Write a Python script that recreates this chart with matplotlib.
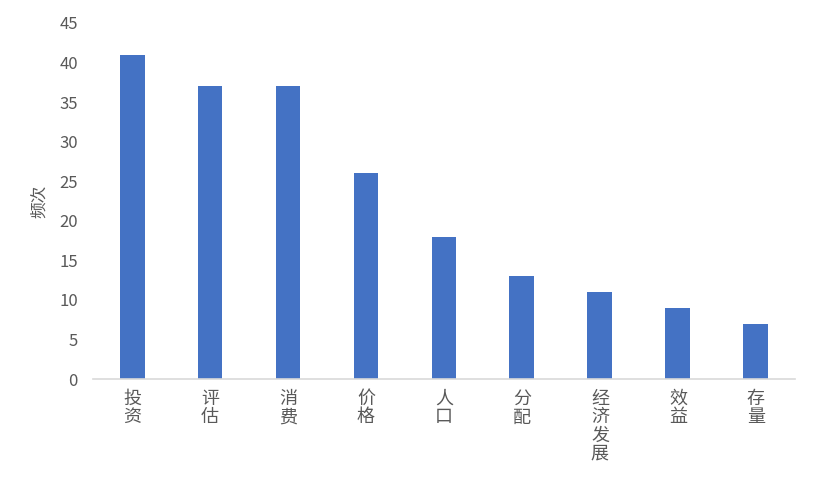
import matplotlib.pyplot as plt

plt.rcParams['font.family'] = ['Noto Sans CJK SC', 'DejaVu Sans']

# data
categories = ["投资", "评估", "消费", "价格", "人口", "分配", "经济发展", "效益", "存量"]
counts = [41, 37, 37, 26, 18, 13, 11, 9, 7]
yticks = [0, 5, 10, 15, 20, 25, 30, 35, 40, 45]

text_color = "#595959"

fig = plt.figure(figsize=(8.19, 4.78), dpi=100)
ax = fig.add_axes([0.1136, 0.2071, 0.857, 0.7448])

x = range(len(categories))
ax.bar(x, counts, width=0.32, color="#4472C4", zorder=2)

ax.set_xlim(-0.5, len(categories) - 0.5)
ax.set_ylim(0, 45)
ax.set_yticks(yticks)
ax.set_yticklabels([str(v) for v in yticks], fontsize=12, color=text_color)

# vertical stacked labels
ax.set_xticks(list(x))
ax.set_xticklabels(["\n".join(c) for c in categories], fontsize=13,
                   color=text_color, linespacing=1.02, va="top")

ax.tick_params(axis="both", length=0)
ax.tick_params(axis="x", pad=8)
ax.tick_params(axis="y", pad=11)

for side in ["top", "right", "left"]:
    ax.spines[side].set_visible(False)
ax.spines["bottom"].set_color("#D9D9D9")
ax.spines["bottom"].set_linewidth(1.2)

ax.set_ylabel("频次", fontsize=12, color=text_color, labelpad=8)

fig.savefig("out.png", dpi=100)
